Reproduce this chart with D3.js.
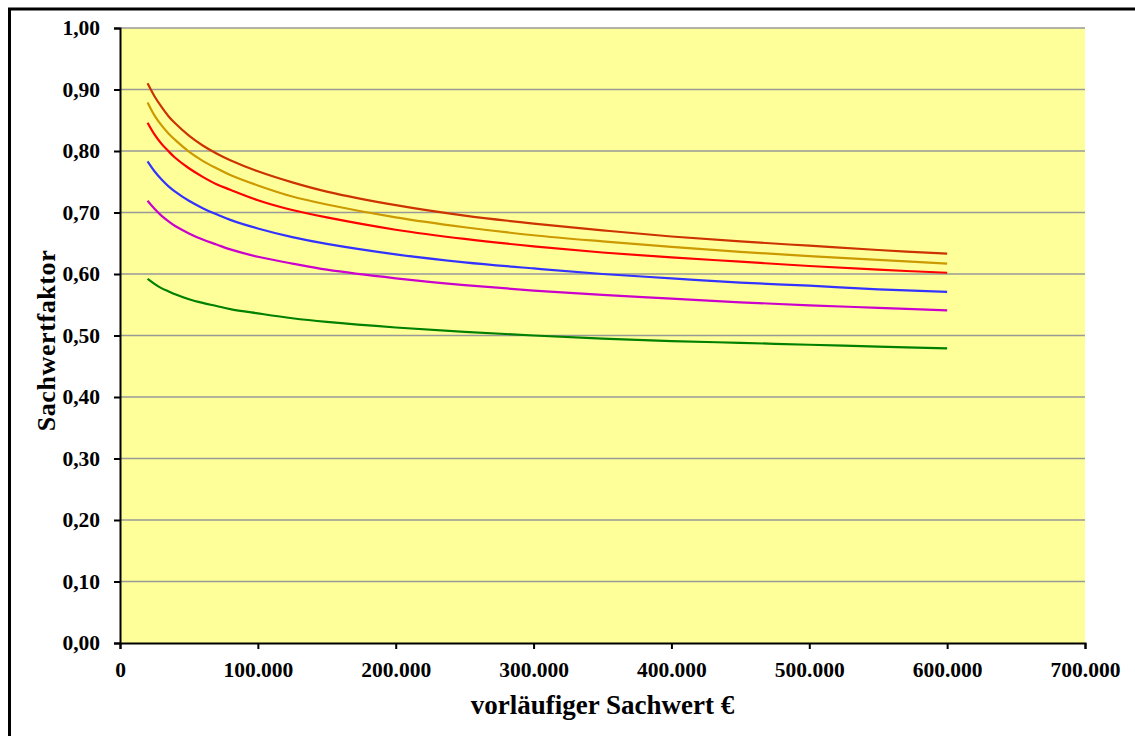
<!DOCTYPE html>
<html>
<head>
<meta charset="utf-8">
<script src="https://cdn.jsdelivr.net/npm/d3@7"></script>
<style>
  html, body { margin: 0; padding: 0; background: #fff; }
  svg { display: block; }
  text { font-family: "Liberation Serif", "Times New Roman", serif; font-weight: bold; fill: #000; }
</style>
</head>
<body>
<svg id="chart" width="1135" height="736"></svg>
<script>
// x values (vorläufiger Sachwert €)
const xValues = [20000, 25000, 30000, 35000, 40000, 50000, 60000, 70000, 80000, 100000, 125000, 150000, 200000, 250000, 300000, 350000, 400000, 450000, 500000, 550000, 600000];

// Sachwertfaktor series
const seriesBrown   = [0.910, 0.889, 0.872, 0.857, 0.845, 0.825, 0.809, 0.796, 0.785, 0.767, 0.749, 0.734, 0.712, 0.695, 0.682, 0.671, 0.661, 0.653, 0.646, 0.639, 0.633];
const seriesOrange  = [0.879, 0.858, 0.842, 0.829, 0.818, 0.799, 0.784, 0.772, 0.761, 0.744, 0.726, 0.713, 0.692, 0.676, 0.663, 0.653, 0.644, 0.636, 0.629, 0.623, 0.617];
const seriesRed     = [0.846, 0.827, 0.812, 0.800, 0.789, 0.772, 0.758, 0.746, 0.737, 0.720, 0.704, 0.692, 0.672, 0.657, 0.645, 0.635, 0.627, 0.620, 0.613, 0.607, 0.602];
const seriesBlue    = [0.783, 0.767, 0.754, 0.743, 0.734, 0.719, 0.707, 0.697, 0.688, 0.674, 0.660, 0.649, 0.632, 0.619, 0.609, 0.600, 0.593, 0.586, 0.581, 0.575, 0.571];
const seriesMagenta = [0.719, 0.706, 0.695, 0.686, 0.678, 0.666, 0.656, 0.648, 0.640, 0.628, 0.617, 0.607, 0.593, 0.582, 0.573, 0.566, 0.560, 0.554, 0.549, 0.545, 0.541];
const seriesGreen   = [0.592, 0.584, 0.577, 0.572, 0.567, 0.559, 0.553, 0.548, 0.543, 0.536, 0.528, 0.522, 0.513, 0.506, 0.500, 0.495, 0.491, 0.488, 0.485, 0.482, 0.479];

const seriesList  = [seriesBrown, seriesOrange, seriesRed, seriesBlue, seriesMagenta, seriesGreen];
const seriesColors = ["#CC3300", "#CC9900", "#FF0000", "#3333FF", "#CC00CC", "#008000"];

const xTicks = [0, 100000, 200000, 300000, 400000, 500000, 600000, 700000];
const yTicks = [0, 0.1, 0.2, 0.3, 0.4, 0.5, 0.6, 0.7, 0.8, 0.9, 1.0];

const xTitle = "vorläufiger Sachwert €";
const yTitle = "Sachwertfaktor";

const svg = d3.select("#chart");
const plot = { left: 120, right: 1085, top: 28, bottom: 643 };

// outer frame
svg.append("rect")
  .attr("x", 9.5).attr("y", 9)
  .attr("width", 1300).attr("height", 900)
  .attr("fill", "none").attr("stroke", "#000").attr("stroke-width", 3);

const x = d3.scaleLinear().domain([0, 700000]).range([plot.left, plot.right]);
const y = d3.scaleLinear().domain([0, 1]).range([plot.bottom, plot.top]);

// plot background
svg.append("rect")
  .attr("x", plot.left).attr("y", plot.top)
  .attr("width", plot.right - plot.left).attr("height", plot.bottom - plot.top)
  .attr("fill", "#FFFF99");

// gridlines
svg.append("g").selectAll("line").data(yTicks.filter(d => d > 0)).join("line")
  .attr("x1", plot.left).attr("x2", plot.right)
  .attr("y1", d => y(d)).attr("y2", d => y(d))
  .attr("stroke", "#999").attr("stroke-width", 1.5);

const fmtY = d => d3.format(".2f")(d).replace(".", ",");
const fmtX = d => d === 0 ? "0" : d3.format(",")(d).replace(/,/g, ".");

const tickFont = '"Liberation Serif", "Times New Roman", serif';

// y axis
const yAxis = svg.append("g")
  .attr("transform", `translate(${plot.left},0)`)
  .call(d3.axisLeft(y).tickValues(yTicks).tickFormat(fmtY).tickSizeOuter(0).tickSize(6).tickPadding(14));
yAxis.select(".domain").attr("stroke", "#000").attr("stroke-width", 2);
yAxis.selectAll(".tick line").attr("stroke", "#000").attr("stroke-width", 2);
yAxis.selectAll(".tick text")
  .style("font-family", tickFont)
  .style("font-weight", "bold").style("font-size", "21.5px").attr("fill", "#000");

// x axis
const xAxis = svg.append("g")
  .attr("transform", `translate(0,${plot.bottom})`)
  .call(d3.axisBottom(x).tickValues(xTicks).tickFormat(fmtX).tickSizeOuter(0).tickSize(6).tickPadding(13));
xAxis.select(".domain").attr("stroke", "#000").attr("stroke-width", 2);
xAxis.selectAll(".tick line").attr("stroke", "#000").attr("stroke-width", 2);
xAxis.selectAll(".tick text")
  .style("font-family", tickFont)
  .style("font-weight", "bold").style("font-size", "21.5px").attr("fill", "#000");

// lines
const line = d3.line()
  .x((d, i) => x(xValues[i]))
  .y(d => y(d))
  .curve(d3.curveCatmullRom.alpha(0.5));

svg.append("g").selectAll("path").data(seriesList).join("path")
  .attr("d", d => line(d))
  .attr("fill", "none")
  .attr("stroke", (d, i) => seriesColors[i])
  .attr("stroke-width", 2.2);

// titles
svg.append("text")
  .attr("x", (plot.left + plot.right) / 2).attr("y", 714)
  .attr("text-anchor", "middle")
  .style("font-size", "27px")
  .text(xTitle);

svg.append("text")
  .attr("transform", `translate(55,${(plot.top + plot.bottom) / 2 + 5}) rotate(-90)`)
  .attr("text-anchor", "middle")
  .style("font-size", "26px")
  .style("letter-spacing", "0.6px")
  .text(yTitle);
</script>
</body>
</html>
